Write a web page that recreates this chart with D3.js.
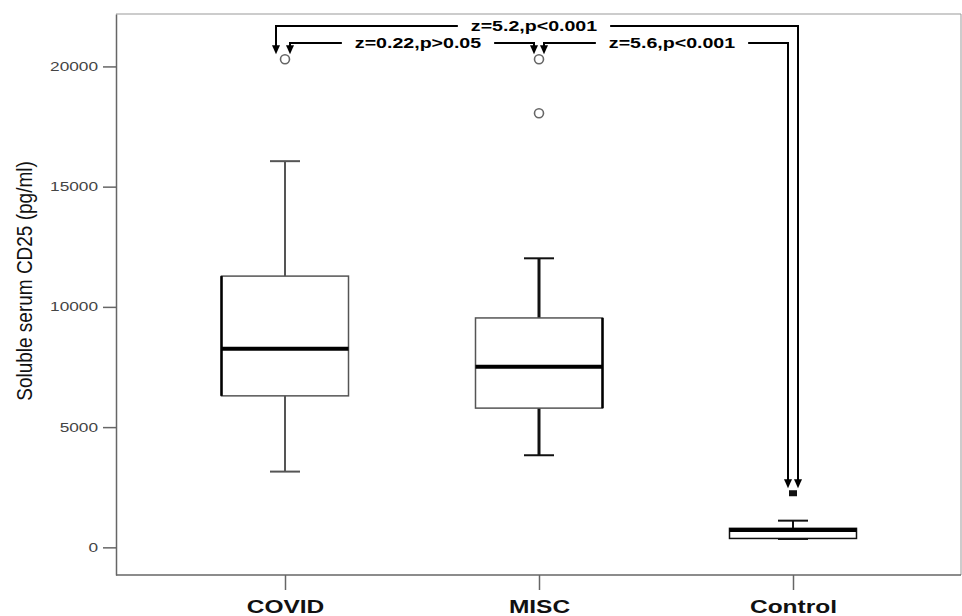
<!DOCTYPE html>
<html lang="en">
<head>
<meta charset="utf-8">
<title>Soluble serum CD25</title>
<script src="https://d3js.org/d3.v7.min.js"></script>
<style>
  body { margin: 0; background: #fff; }
  svg { display: block; font-family: "Liberation Sans", Arial, sans-serif; }
</style>
</head>
<body>
<svg id="chart" width="962" height="616"></svg>
<script>
// groups and box summaries (pg/ml)
var groups  = ["COVID", "MISC", "Control"];
var whiskLo = [3150, 3830, 350];
var q1      = [6300, 5790, 370];
var medians = [8260, 7510, 720];
var q3      = [11280, 9540, 790];
var whiskHi = [16060, 12020, 1110];

// outliers
var outGroup = ["COVID", "MISC", "MISC", "Control"];
var outValue = [20300, 20300, 18050, 2250];
var outKind  = ["circle", "circle", "circle", "square"];

var yTicks = [0, 5000, 10000, 15000, 20000];

// pairwise tests shown as brackets on top
var cmpFrom  = ["COVID", "COVID", "MISC"];
var cmpTo    = ["Control", "MISC", "Control"];
var cmpLabel = ["z=5.2,p<0.001", "z=0.22,p>0.05", "z=5.6,p<0.001"];
var cmpLevel = [0, 1, 1];

var svg = d3.select("#chart");
var pLeft = 116, pRight = 961, pTop = 14, pBottom = 575;

var x = d3.scalePoint().domain(groups).range([285, 793]);
var y = d3.scaleLinear().domain([-1150, 22180]).range([pBottom, pTop]);

// frame
svg.append("line").attr("x1", pLeft).attr("x2", pRight).attr("y1", pTop).attr("y2", pTop)
  .attr("stroke", "#999").attr("stroke-width", 1);
svg.append("line").attr("x1", pRight).attr("x2", pRight).attr("y1", pTop).attr("y2", pBottom)
  .attr("stroke", "#999").attr("stroke-width", 1);

// y axis
var sx = 1.38;
var yAxis = svg.append("g").attr("transform", "translate(" + pLeft + ",0)")
  .call(d3.axisLeft(y).tickValues(yTicks).tickFormat(d3.format("d")).tickSize(13).tickSizeOuter(0).tickPadding(5));
yAxis.select(".domain").attr("stroke", "#666").attr("stroke-width", 1.5);
yAxis.selectAll(".tick line").attr("stroke", "#666").attr("stroke-width", 1.5);
yAxis.selectAll(".tick text")
  .attr("x", -18 / sx)
  .attr("transform", "scale(" + sx + ",1)")
  .attr("fill", "#444")
  .style("font-size", "12.5px")
  .style("font-family", "'Liberation Sans', Arial, sans-serif");

// x axis
var xAxis = svg.append("g").attr("transform", "translate(0," + pBottom + ")")
  .call(d3.axisBottom(x).tickSize(15).tickSizeOuter(0));
xAxis.select(".domain").remove();
xAxis.append("line").attr("x1", pLeft).attr("x2", pRight)
  .attr("stroke", "#666").attr("stroke-width", 1.5);
xAxis.selectAll(".tick line").attr("stroke", "#666").attr("stroke-width", 1.5);
xAxis.selectAll(".tick text")
  .attr("y", 38).attr("dy", 0)
  .attr("transform", "scale(1.29,1)")
  .attr("fill", "#111")
  .style("font-size", "19px")
  .style("font-weight", "bold")
  .style("font-family", "'Liberation Sans', Arial, sans-serif");

// y title
svg.append("g").attr("transform", "translate(32,281) scale(1.16,1)")
  .append("text")
  .attr("transform", "rotate(-90)")
  .attr("text-anchor", "middle")
  .attr("fill", "#111")
  .style("font-size", "19px")
  .text("Soluble serum CD25 (pg/ml)");

// boxes
var boxW = 127, capW = 30;
var whiskStyle = { COVID: ["#555", 2], MISC: ["#111", 3], Control: ["#111", 2] };

var box = svg.append("g").selectAll("g").data(groups).enter().append("g");

box.append("line")
  .attr("x1", function(d) { return x(d); }).attr("x2", function(d) { return x(d); })
  .attr("y1", function(d, i) { return y(whiskLo[i]); })
  .attr("y2", function(d, i) { return y(whiskHi[i]); })
  .attr("stroke", function(d) { return whiskStyle[d][0]; })
  .attr("stroke-width", function(d) { return whiskStyle[d][1]; });

box.selectAll(".cap")
  .data(function(d, i) { return [{ g: d, v: whiskLo[i] }, { g: d, v: whiskHi[i] }]; })
  .enter().append("line")
  .attr("x1", function(d) { return x(d.g) - capW / 2; })
  .attr("x2", function(d) { return x(d.g) + capW / 2; })
  .attr("y1", function(d) { return y(d.v); })
  .attr("y2", function(d) { return y(d.v); })
  .attr("stroke", function(d) { return whiskStyle[d.g][0]; })
  .attr("stroke-width", 2);

box.append("rect")
  .attr("x", function(d) { return x(d) - boxW / 2; })
  .attr("width", boxW)
  .attr("y", function(d, i) { return y(q3[i]); })
  .attr("height", function(d, i) { return y(q1[i]) - y(q3[i]); })
  .attr("fill", "#fff")
  .attr("stroke", function(d) { return d == "Control" ? "#111" : "#555"; })
  .attr("stroke-width", 1.5);

// darker box edge as in the original rendering
box.filter(function(d) { return d != "Control"; }).append("line")
  .attr("x1", function(d) { return d == "COVID" ? x(d) - boxW / 2 : x(d) + boxW / 2; })
  .attr("x2", function(d) { return d == "COVID" ? x(d) - boxW / 2 : x(d) + boxW / 2; })
  .attr("y1", function(d) { var i = groups.indexOf(d); return y(q3[i]); })
  .attr("y2", function(d) { var i = groups.indexOf(d); return y(q1[i]); })
  .attr("stroke", "#000").attr("stroke-width", 2.5);

box.append("line")
  .attr("x1", function(d) { return x(d) - boxW / 2; })
  .attr("x2", function(d) { return x(d) + boxW / 2; })
  .attr("y1", function(d, i) { return y(medians[i]); })
  .attr("y2", function(d, i) { return y(medians[i]); })
  .attr("stroke", "#000").attr("stroke-width", 4);

// outliers
var outs = outValue.map(function(v, i) { return { g: outGroup[i], v: v, k: outKind[i] }; });
svg.append("g").selectAll("circle").data(outs.filter(function(d) { return d.k == "circle"; }))
  .enter().append("circle")
  .attr("cx", function(d) { return x(d.g); })
  .attr("cy", function(d) { return y(d.v); })
  .attr("r", 4.5)
  .attr("fill", "#fff").attr("stroke", "#666").attr("stroke-width", 1.6);
svg.append("g").selectAll("rect").data(outs.filter(function(d) { return d.k == "square"; }))
  .enter().append("rect")
  .attr("x", function(d) { return x(d.g) - 4; })
  .attr("y", function(d) { return y(d.v) - 3; })
  .attr("width", 8).attr("height", 6)
  .attr("fill", "#111");

// comparison brackets
function groupTop(g) {
  var i = groups.indexOf(g);
  var m = whiskHi[i];
  outs.forEach(function(o) { if (o.g == g && o.v > m) m = o.v; });
  return y(m) - 5;
}
var ann = svg.append("g");
cmpLabel.forEach(function(lab, i) {
  var lv = cmpLevel[i];
  var xa = x(cmpFrom[i]) + (lv == 0 ? -9 : 5);
  var xb = x(cmpTo[i]) + (lv == 0 ? 5 : -5);
  var ly = 26 + 17 * lv;
  var ya = groupTop(cmpFrom[i]), yb = groupTop(cmpTo[i]);
  var mid = (xa + xb) / 2 + (lv == 0 ? -3 : 6);

  var t = ann.append("g").attr("transform", "translate(" + mid + "," + (ly + 5) + ") scale(1.4,1)")
    .append("text")
    .attr("text-anchor", "middle")
    .attr("fill", "#000")
    .style("font-size", "14px")
    .style("font-weight", "bold")
    .text(lab);
  var half = t.node().getComputedTextLength() * 1.4 / 2 + 13;

  var path = d3.path();
  path.moveTo(xa, ya - 8); path.lineTo(xa, ly); path.lineTo(mid - half, ly);
  path.moveTo(mid + half, ly); path.lineTo(xb, ly); path.lineTo(xb, yb - 8);
  ann.append("path").attr("d", path.toString())
    .attr("fill", "none").attr("stroke", "#000").attr("stroke-width", 2);

  [[xa, ya], [xb, yb]].forEach(function(p) {
    ann.append("path")
      .attr("d", "M" + (p[0] - 4) + "," + (p[1] - 9) + "L" + (p[0] + 4) + "," + (p[1] - 9) + "L" + p[0] + "," + p[1] + "Z")
      .attr("fill", "#000");
  });
});
</script>
</body>
</html>
